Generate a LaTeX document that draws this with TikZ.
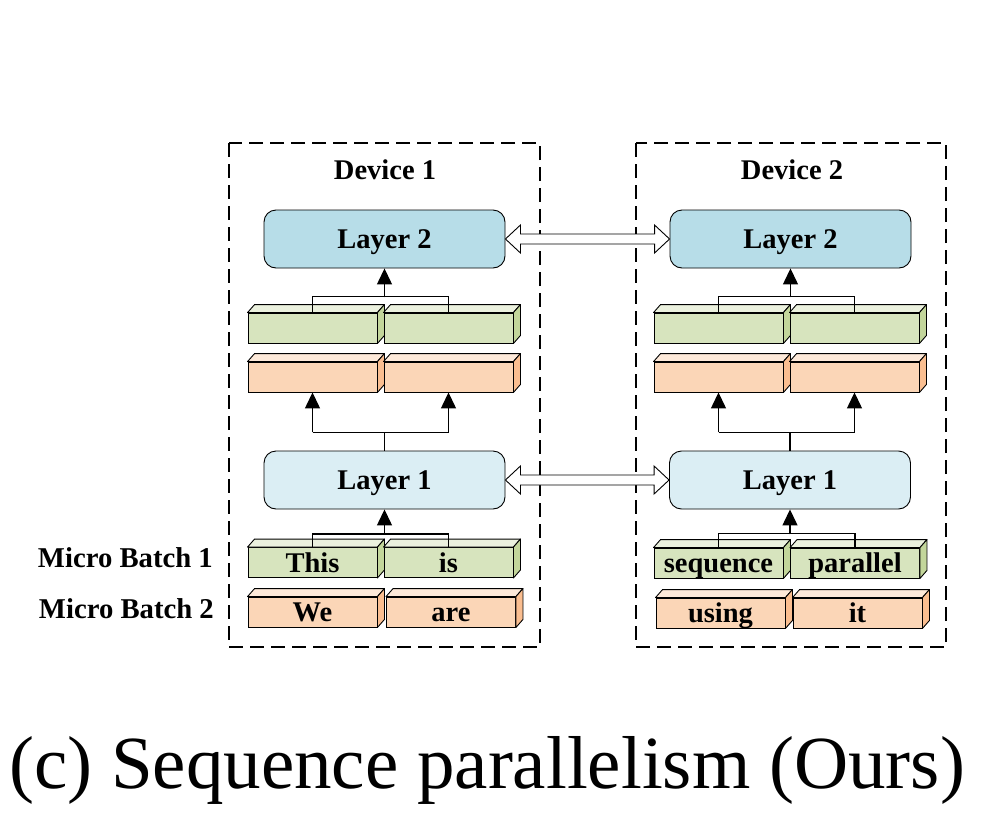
\documentclass[tikz,border=0pt]{standalone}
\usepackage{fontspec}
\setmainfont{Liberation Serif}
\usetikzlibrary{calc,arrows.meta}
\definecolor{gfront}{RGB}{215,228,190}
\definecolor{gtop}{RGB}{235,241,222}
\definecolor{gside}{RGB}{195,214,155}
\definecolor{ofront}{RGB}{251,214,183}
\definecolor{otop}{RGB}{253,233,217}
\definecolor{oside}{RGB}{250,190,144}
\definecolor{ltwo}{RGB}{183,221,232}
\definecolor{lone}{RGB}{219,238,244}
\tikzset{
  lbl/.style={font=\fontsize{28.5}{31}\selectfont\bfseries, inner sep=0pt},
  mblbl/.style={font=\fontsize{28.7}{31}\selectfont\bfseries, inner sep=0pt},
  cubefront/.style={draw, line width=0.9pt, minimum width=129pt, minimum height=30pt, inner sep=0pt, text height=19pt, text depth=0pt, font=\fontsize{28.5}{31}\selectfont\bfseries},
  layerbox/.style={draw, line width=0.9pt, rounded corners=12pt, minimum width=241pt, minimum height=58pt, inner sep=0pt, text height=18pt, text depth=0pt, font=\fontsize{28.5}{31}\selectfont\bfseries},
  devbox/.style={draw, line width=1.3pt, dash pattern=on 14pt off 7pt},
  arr/.style={line width=1.3pt, -{Triangle[length=16pt,width=15pt]}},
  brk/.style={line width=1.3pt},
  dbl/.style={draw, line width=0.9pt, fill=white}
}
% \mycube{name}{x}{y}{front}{top}{side}{text}
\newcommand{\mycube}[7]{%
  \node[cubefront, fill=#4] (#1) at (#2,#3) {#7};
  \draw[line width=0.9pt, fill=#5, line join=round] (#1.north west) -- ++(7,-8) -- ($(#1.north east)+(7,-8)$) -- (#1.north east) -- cycle;
  \draw[line width=0.9pt, fill=#6, line join=round] (#1.north east) -- ++(7,-8) -- ($(#1.south east)+(7,-8)$) -- (#1.south east) -- cycle;
}
% \mydbl{left node}{right node}
\newcommand{\mydbl}[2]{%
  \draw[dbl, line join=miter] (#1.east) -- ($(#1.east)+(15,-14)$) -- ($(#1.east)+(15,-5)$) -- ($(#2.west)+(-15,-5)$) -- ($(#2.west)+(-15,-14)$) -- (#2.west) -- ($(#2.west)+(-15,14)$) -- ($(#2.west)+(-15,5)$) -- ($(#1.east)+(15,5)$) -- ($(#1.east)+(15,14)$) -- cycle;
}
\begin{document}
\begin{tikzpicture}[x=1pt,y=-1pt]
\useasboundingbox (0,0) rectangle (997,825);
% device frames
\draw[devbox] (229,143) rectangle (540,647);
\draw[devbox] (636,143) rectangle (946,647);
\node[lbl] (d1) at (385,170) {Device 1};
\node[lbl] (d2) at (792,170) {Device 2};
% layers
\node[layerbox, fill=ltwo] (L2a) at (384.5,239) {Layer 2};
\node[layerbox, fill=ltwo] (L2b) at (790.5,239) {Layer 2};
\node[layerbox, fill=lone] (L1a) at (384.5,480) {Layer 1};
\node[layerbox, fill=lone] (L1b) at (790,480) {Layer 1};
% left device cubes
\mycube{gUL}{312.5}{328}{gfront}{gtop}{gside}{}
\mycube{gUR}{448.5}{328}{gfront}{gtop}{gside}{}
\mycube{oUL}{312.5}{377}{ofront}{otop}{oside}{}
\mycube{oUR}{448.5}{377}{ofront}{otop}{oside}{}
\mycube{gBL}{312.5}{562.5}{gfront}{gtop}{gside}{This}
\mycube{gBR}{448.5}{562.5}{gfront}{gtop}{gside}{is}
\mycube{oBL}{312.5}{612}{ofront}{otop}{oside}{We}
\mycube{oBR}{451}{612}{ofront}{otop}{oside}{are}
% right device cubes
\mycube{gUL2}{718.5}{328}{gfront}{gtop}{gside}{}
\mycube{gUR2}{854.5}{328}{gfront}{gtop}{gside}{}
\mycube{oUL2}{718.5}{377}{ofront}{otop}{oside}{}
\mycube{oUR2}{854.5}{377}{ofront}{otop}{oside}{}
\mycube{gBL2}{718.5}{563}{gfront}{gtop}{gside}{sequence}
\mycube{gBR2}{855}{563}{gfront}{gtop}{gside}{parallel}
\mycube{oBL2}{720.5}{613}{ofront}{otop}{oside}{using}
\mycube{oBR2}{857.5}{613}{ofront}{otop}{oside}{it}
% left connectors
\draw[brk] (gUL.north) -- ++(0,-16) -| (gUR.north);
\draw[arr] ($(L2a.south)+(0,29)$) -- (L2a.south);
\draw[arr] ($(oUL.south)+(0,40)$) -- (oUL.south);
\draw[arr] ($(oUR.south)+(0,40)$) -- (oUR.south);
\draw[brk] ($(oUL.south)+(0,40)$) -- ($(oUR.south)+(0,40)$);
\draw[brk] (L1a.north) -- ++(0,-19);
\draw[brk] (gBL.north) -- ++(0,-13) -| (gBR.north);
\draw[arr] ($(L1a.south)+(0,25)$) -- (L1a.south);
% right connectors
\draw[brk] (gUL2.north) -- ++(0,-16) -| (gUR2.north);
\draw[arr] ($(L2b.south)+(0,29)$) -- (L2b.south);
\draw[arr] ($(oUL2.south)+(0,40)$) -- (oUL2.south);
\draw[arr] ($(oUR2.south)+(0,40)$) -- (oUR2.south);
\draw[brk] ($(oUL2.south)+(0,40)$) -- ($(oUR2.south)+(0,40)$);
\draw[brk] (L1b.north) -- ++(0,-19);
\draw[brk] (gBL2.north) -- ++(0,-14) -| (gBR2.north);
\draw[arr] ($(L1b.south)+(0,25)$) -- (L1b.south);
% double arrows between devices
\mydbl{L2a}{L2b}
\mydbl{L1a}{L1b}
% micro batch labels
\node[mblbl, anchor=east] (mb1) at (213,558) {Micro Batch 1};
\node[mblbl, anchor=east] (mb2) at (214,609) {Micro Batch 2};
% caption
\node[anchor=base, inner sep=0pt, font=\fontsize{75}{80}\selectfont] (cap) at (487,788) {(c) Sequence parallelism (Ours)};
\end{tikzpicture}
\end{document}
